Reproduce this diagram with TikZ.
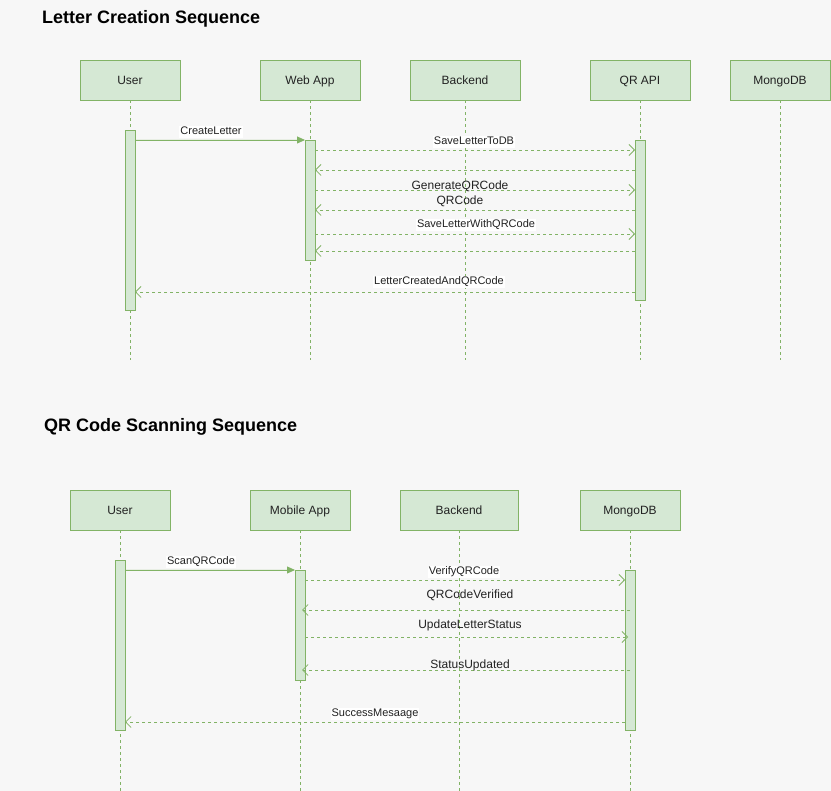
\documentclass[tikz,border=0pt]{standalone}
\usepackage{fontspec}
\setmainfont{Liberation Sans}
\usetikzlibrary{arrows.meta}
\definecolor{bg}{HTML}{F7F7F7}
\definecolor{gfill}{HTML}{D5E8D4}
\definecolor{gline}{HTML}{82B366}
\definecolor{txt}{HTML}{222222}
\begin{document}
\begin{tikzpicture}[x=1pt,y=-1pt,
  actor/.style={draw=gline, fill=gfill, minimum width=100pt, minimum height=40pt, inner sep=0pt, line width=0.8pt, text=txt, text height=10pt, text depth=1.6pt, font=\fontsize{12}{14}\selectfont},
  act/.style={draw=gline, fill=gfill, minimum width=10pt, inner sep=0pt, line width=0.8pt},
  life/.style={draw=gline, line width=0.6pt, dash pattern=on 3pt off 3pt},
  call/.style={draw=gline, line width=0.8pt, -{Triangle[length=8pt,width=7pt]}, fill=gline},
  ret/.style={draw=gline, line width=0.8pt, dash pattern=on 3pt off 3pt, -{Straight Barb[length=5.5pt,width=11pt,line width=0.8pt]}},
  lbl/.style={fill=white, inner sep=1pt, yshift=-1pt, text=txt, text height=8pt, text depth=2.2pt, font=\fontsize{11}{13}\selectfont},
  lblb/.style={inner sep=1pt, yshift=-1pt, text=txt, text height=8.6pt, text depth=2.4pt, font=\fontsize{12}{14}\selectfont},
  ttl/.style={anchor=west, inner sep=0pt, text=black, font=\bfseries\fontsize{18}{21}\selectfont}]
\fill[bg] (0,0) rectangle (831,791);
\useasboundingbox (0,0) rectangle (831,791);

% ---------- Letter Creation Sequence ----------
\node[ttl] (t1) at (42,19) {Letter Creation Sequence};
\node[actor] (user1) at (130,80) {User};
\node[actor] (web) at (310,80) {Web App};
\node[actor, minimum width=110pt] (back1) at (465,80) {Backend};
\node[actor] (qr) at (640,80) {QR API};
\node[actor] (mongo1) at (780,80) {MongoDB};

\coordinate (user1e) at (130,360);
\coordinate (webe) at (310,360);
\coordinate (back1e) at (465,360);
\coordinate (qre) at (640,360);
\coordinate (mongo1e) at (780,360);
\draw[life] (user1) -- (user1e);
\draw[life] (web) -- (webe);
\draw[life] (back1) -- (back1e);
\draw[life] (qr) -- (qre);
\draw[life] (mongo1) -- (mongo1e);

\node[act, minimum height=180pt] (ua1) at (130,220) {};
\node[act, minimum height=120pt] (wa) at (310,200) {};
\node[act, minimum height=160pt] (qa) at (640,220) {};

\coordinate (a1s) at (135,140); \coordinate (a1e) at (305,140);
\coordinate (a2s) at (315,150); \coordinate (a2e) at (635,150);
\coordinate (a3s) at (635,170); \coordinate (a3e) at (315,170);
\coordinate (a4s) at (315,190); \coordinate (a4e) at (635,190);
\coordinate (a5s) at (635,210); \coordinate (a5e) at (315,210);
\coordinate (a6s) at (315,234); \coordinate (a6e) at (635,234);
\coordinate (a7s) at (635,251); \coordinate (a7e) at (315,251);
\coordinate (a8s) at (635,292); \coordinate (a8e) at (135,292);

\draw[call] (a1s) -- (a1e);
\draw[ret] (a2s) -- (a2e);
\draw[ret] (a3s) -- (a3e);
\draw[ret] (a4s) -- (a4e);
\draw[ret] (a5s) -- (a5e);
\draw[ret] (a6s) -- (a6e);
\draw[ret] (a7s) -- (a7e);
\draw[ret] (a8s) -- (a8e);

\node[lbl] (l1) at (211,131) {CreateLetter};
\node[lbl] (l2) at (474,141) {SaveLetterToDB};
\node[lblb] (l4) at (460,185) {GenerateQRCode};
\node[lblb] (l5) at (460,200) {QRCode};
\node[lbl] (l6) at (476,224) {SaveLetterWithQRCode};
\node[lbl] (l8) at (439,281) {LetterCreatedAndQRCode};

% ---------- QR Code Scanning Sequence ----------
\node[ttl] (t2) at (44,427) {QR Code Scanning Sequence};
\node[actor] (user2) at (120,510) {User};
\node[actor] (mob) at (300,510) {Mobile App};
\node[actor, minimum width=118pt] (back2) at (459,510) {Backend};
\node[actor] (mongo2) at (630,510) {MongoDB};

\coordinate (user2e) at (120,791);
\coordinate (mobe) at (300,791);
\coordinate (back2e) at (459,791);
\coordinate (mongo2e) at (630,791);
\draw[life] (user2) -- (user2e);
\draw[life] (mob) -- (mobe);
\draw[life] (back2) -- (back2e);
\draw[life] (mongo2) -- (mongo2e);

\node[act, minimum height=170pt] (ua2) at (120,645) {};
\node[act, minimum height=110pt] (ma) at (300,625) {};
\node[act, minimum height=160pt] (da) at (630,650) {};

\coordinate (b1s) at (125,570); \coordinate (b1e) at (295,570);
\coordinate (b2s) at (305,580); \coordinate (b2e) at (625,580);
\coordinate (b3s) at (630,610); \coordinate (b3e) at (302,610);
\coordinate (b4s) at (305,637); \coordinate (b4e) at (628,637);
\coordinate (b5s) at (630,670); \coordinate (b5e) at (302,670);
\coordinate (b6s) at (625,722); \coordinate (b6e) at (125,722);

\draw[call] (b1s) -- (b1e);
\draw[ret] (b2s) -- (b2e);
\draw[ret] (b3s) -- (b3e);
\draw[ret] (b4s) -- (b4e);
\draw[ret] (b5s) -- (b5e);
\draw[ret] (b6s) -- (b6e);

\node[lbl] (k1) at (201,561) {ScanQRCode};
\node[lbl] (k2) at (464,571) {VerifyQRCode};
\node[lblb] (k3) at (470,594) {QRCodeVerified};
\node[lblb] (k4) at (470,624) {UpdateLetterStatus};
\node[lblb] (k5) at (470,664) {StatusUpdated};
\node[lbl] (k6) at (375,713) {SuccessMesaage};
\end{tikzpicture}
\end{document}
